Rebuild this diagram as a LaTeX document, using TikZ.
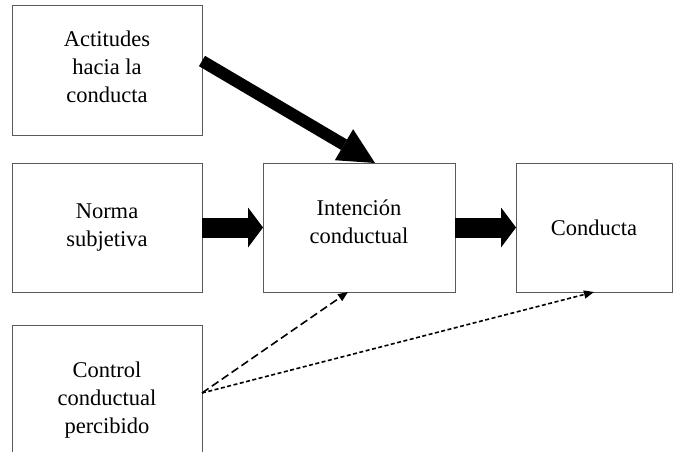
\documentclass[tikz,border=0pt]{standalone}
\usepackage{fontspec}
\setmainfont{Liberation Serif}
\usetikzlibrary{arrows.meta, positioning}
\tikzset{
  box/.style={rectangle, draw=black!65, line width=0.9pt, fill=white,
    minimum width=190pt, minimum height=129pt, inner sep=0pt, outer sep=0pt,
    align=center, font=\fontsize{22.5}{28}\selectfont},
  fatarrow/.style={line width=20pt,
    -{Triangle[length=15pt, width=40pt, line width=0pt]}},
  slantarrow/.style={line width=12pt,
    -{Triangle[length=36pt, width=36pt, line width=0pt]}},
  dasharrow/.style={line width=1.6pt, dash pattern=on 8pt off 4pt,
    -{Triangle[length=10pt, width=8pt]}},
  dotarrow/.style={line width=1.6pt, dash pattern=on 4pt off 2.5pt,
    -{Triangle[length=10pt, width=8pt]}},
}
\begin{document}
\begin{tikzpicture}[x=1pt, y=-1pt]
  \useasboundingbox (0,0) rectangle (673,452);
  \node[box, minimum height=130pt, text depth=6pt] (actitudes) at (107,70) {Actitudes\\hacia la\\conducta};
  \node[box, below=28pt of actitudes] (norma) {Norma\\subjetiva};
  \node[box, minimum height=150pt, below=33pt of norma] (control)
    {Control\\conductual\\percibido};
  \node[box, minimum width=192pt, text depth=11pt, right=61pt of norma] (intencion) {Intención\\conductual};
  \node[box, minimum width=156pt, right=61pt of intencion] (conducta) {Conducta};

  \draw[slantarrow] ([yshift=9pt]actitudes.east) -- ([xshift=16pt]intencion.north);
  \draw[fatarrow] (norma.east) -- (intencion.west);
  \draw[fatarrow] (intencion.east) -- (conducta.west);

  % dashed: perceived control
  \draw[dasharrow] ([yshift=7pt]control.east) -- ([xshift=-11pt]intencion.south);
  \draw[dotarrow] ([yshift=7pt]control.east) -- (conducta.south);
\end{tikzpicture}
\end{document}
